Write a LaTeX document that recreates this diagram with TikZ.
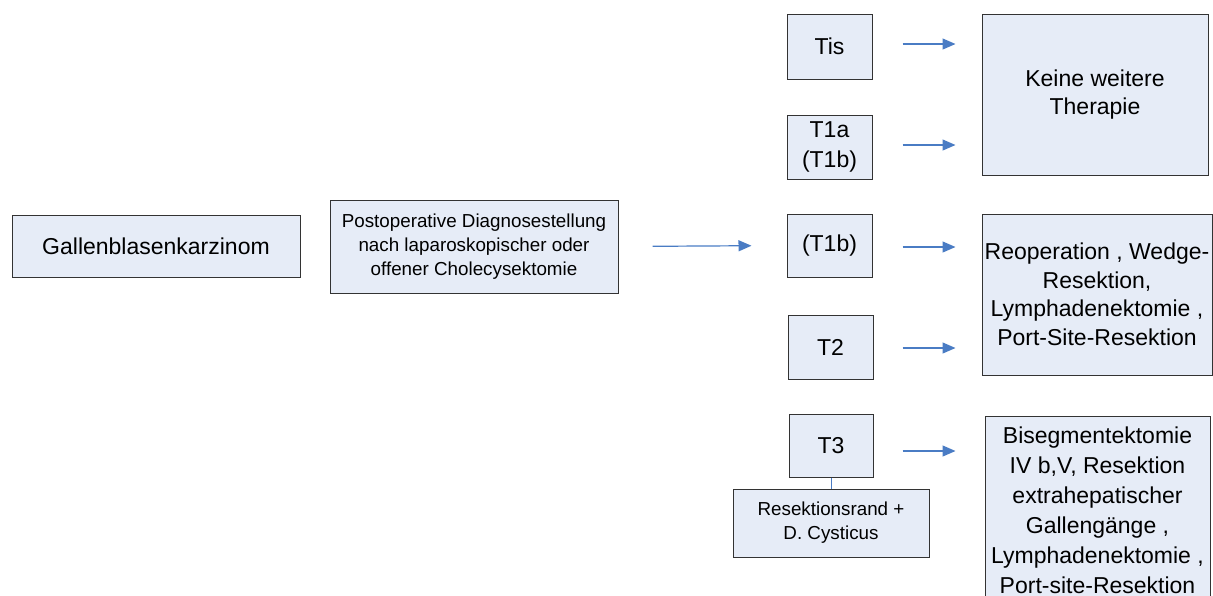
\documentclass[tikz,border=0pt]{standalone}
\usepackage{fontspec}
\setmainfont{Liberation Sans}
\usepackage{xcolor}
\usetikzlibrary{arrows.meta,positioning,calc}

\definecolor{boxfill}{HTML}{E6ECF7}
\definecolor{flowblue}{HTML}{4A7CC4}

\tikzset{
    stagebox/.style={draw=black!80, line width=1pt, fill=boxfill, align=center, inner sep=2pt},
    flow/.style={draw=flowblue, line width=1.2pt, -{Triangle[length=13pt,width=11pt]}},
    bigtext/.style={font=\fontsize{23}{28.5}\selectfont},
    smalltext/.style={font=\fontsize{18.8}{24}\selectfont}
}

\begin{document}
\begin{tikzpicture}[x=1pt, y=-1pt]
            \useasboundingbox (0,0) rectangle (1213,595);
            % left part
            \node (gall) at (156,246) [stagebox, bigtext, minimum width=288, minimum height=62] {Gallenblasenkarzinom};
            \node (post) at (474,246.5) [stagebox, smalltext, minimum width=288, minimum height=93]
                {Postoperative Diagnosestellung\\nach laparoskopischer oder\\offener Cholecysektomie};
            % T stages
            \node (tis) at (829.5,46.5) [stagebox, bigtext, minimum width=85, minimum height=65] {Tis};
            \node (tia) at (829.5,147) [stagebox, font=\fontsize{23}{30}\selectfont, minimum width=85, minimum height=64] {T1a\\(T1b)};
            \node (tib) at (829.5,245.5) [stagebox, bigtext, minimum width=85, minimum height=63] {(T1b)};
            \node (tii) at (830.5,347) [stagebox, bigtext, minimum width=85, minimum height=64] {T2};
            \node (tiii) at (831,445.5) [stagebox, bigtext, minimum width=84, minimum height=63] {T3};
            \node (rand) at (831,523) [stagebox, smalltext, minimum width=196, minimum height=68] {Resektionsrand +\\D. Cysticus};
            % therapies
            \node (keine) at (1095,94.5) [stagebox, bigtext, minimum width=226, minimum height=161] {Keine weitere\\Therapie};
            \node (reop) at (1097,294.5) [stagebox, bigtext, minimum width=230, minimum height=161]
                {Reoperation , Wedge-\\Resektion,\\Lymphadenektomie ,\\Port-Site-Resektion};
            \node (biseg) at (1097.5,512) [stagebox, font=\fontsize{23}{30}\selectfont, minimum width=225, minimum height=192, text depth=4]
                {Bisegmentektomie\\IV b,V, Resektion\\extrahepatischer\\Gallengänge ,\\Lymphadenektomie ,\\Port-site-Resektion};
            % connectors
            \draw[flow, shorten <=34, shorten >=35] (post.east) -- (tib.west);
            \draw[flow, shorten <=30, shorten >=26] ([yshift=2.5]tis.east) -- ([yshift=2.5]tis.east -| keine.west);
            \draw[flow, shorten <=30, shorten >=26] ([yshift=2]tia.east) -- ([yshift=2]tia.east -| keine.west);
            \draw[flow, shorten <=30, shorten >=26] ([yshift=-1.5]tib.east) -- ([yshift=-1.5]tib.east -| reop.west);
            \draw[flow, shorten <=29, shorten >=26] ([yshift=-1]tii.east) -- ([yshift=-1]tii.east -| reop.west);
            \draw[flow, shorten <=29, shorten >=29] ([yshift=-5.5]tiii.east) -- ([yshift=-5.5]tiii.east -| biseg.west);
            \draw[draw=flowblue, line width=1pt] (tiii.south) -- (rand.north);
        \end{tikzpicture}
\end{document}
